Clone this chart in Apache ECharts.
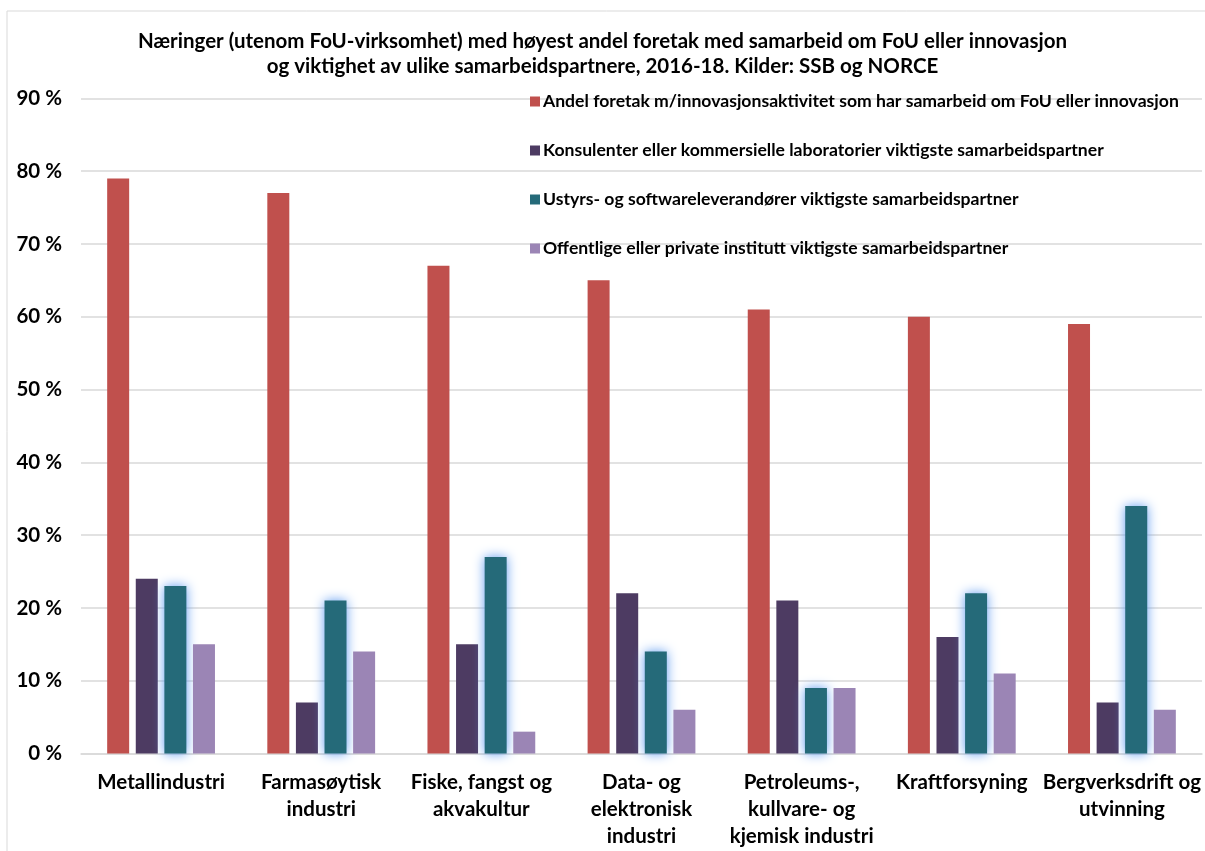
<!DOCTYPE html>
<html>
<head>
<meta charset="utf-8">
<script src="https://cdn.jsdelivr.net/npm/echarts@6/dist/echarts.min.js"></script>
<style>
html,body{margin:0;padding:0;background:#fff;}
#chart{width:1205px;height:851px;}
</style>
</head>
<body>
<div id="chart"></div>
<script>
const titleText = 'Næringer (utenom FoU-virksomhet) med høyest andel foretak med samarbeid om FoU eller innovasjon\nog viktighet av ulike samarbeidspartnere, 2016-18. Kilder: SSB og NORCE';
const categories = [
  'Metallindustri',
  'Farmasøytisk\nindustri',
  'Fiske, fangst og\nakvakultur',
  'Data- og\nelektronisk\nindustri',
  'Petroleums-,\nkullvare- og\nkjemisk industri',
  'Kraftforsyning',
  'Bergverksdrift og\nutvinning'
];
const seriesNames = [
  'Andel foretak m/innovasjonsaktivitet som har samarbeid om FoU eller innovasjon',
  'Konsulenter eller kommersielle laboratorier viktigste samarbeidspartner',
  'Ustyrs- og softwareleverandører viktigste samarbeidspartner',
  'Offentlige eller private institutt viktigste samarbeidspartner'
];
const andelSamarbeid = [79, 77, 67, 65, 61, 60, 59];
const konsulenter    = [24, 7, 15, 22, 21, 16, 7];
const ustyrSoftware  = [23, 21, 27, 14, 9, 22, 34];
const institutt      = [15, 14, 3, 6, 9, 11, 6];
const yTicks = [0, 10, 20, 30, 40, 50, 60, 70, 80, 90];

const colors = ['#C0504D', '#4D3B62', '#256A79', '#9B85B5'];
const FONT = 'Lato';

const chart = echarts.init(document.getElementById('chart'), null, {renderer: 'canvas'});
const values = [andelSamarbeid, konsulenter, ustyrSoftware, institutt];

const series = values.map((d, i) => {
  const s = {
    name: seriesNames[i],
    type: 'bar',
    data: d,
    barWidth: 22,
    barGap: '30%',
    itemStyle: {color: colors[i]}
  };
  if (i === 2) {
    s.itemStyle = {
      color: colors[i],
      shadowColor: 'rgba(95,155,240,1)',
      shadowBlur: 12
    };
  }
  return s;
});

chart.setOption({
  backgroundColor: '#ffffff',
  animation: false,
  title: {
    text: titleText,
    left: 'center',
    top: 24,
    textStyle: {fontFamily: FONT, fontWeight: 'bold', fontSize: 20.5, lineHeight: 25, color: '#000'}
  },
  graphic: [{
    type: 'rect',
    shape: {x: 7, y: 11, width: 1205, height: 851},
    style: {fill: 'none', stroke: '#d9d9d9', lineWidth: 1},
    silent: true,
    z: -1
  }],
  legend: {
    orient: 'vertical',
    left: 525,
    top: 87.5,
    itemWidth: 10,
    itemHeight: 10,
    itemGap: 31,
    icon: 'rect',
    textStyle: {fontFamily: FONT, fontWeight: 'bold', fontSize: 17.6, lineHeight: 17, color: '#000', padding: [0,0,0,-2]},
    data: seriesNames
  },
  grid: {left: 81, right: 3, top: 98.3, bottom: 97.5, containLabel: false},
  xAxis: {
    type: 'category',
    data: categories,
    axisTick: {show: false},
    axisLine: {lineStyle: {color: '#d9d9d9', width: 1.5}},
    axisLabel: {
      interval: 0,
      margin: 15,
      fontFamily: FONT, fontWeight: 'bold', fontSize: 20.5, lineHeight: 27, color: '#000'
    }
  },
  yAxis: {
    type: 'value',
    min: 0, max: 90, interval: 10,
    axisLine: {show: false},
    axisTick: {show: false},
    splitLine: {lineStyle: {color: '#d9d9d9', width: 1.5}},
    axisLabel: {
      margin: 19,
      formatter: v => yTicks.includes(v) ? v + ' %' : '',
      fontFamily: FONT, fontWeight: 'bold', fontSize: 20.5, color: '#000'
    }
  },
  series: series
});
</script>
</body>
</html>
